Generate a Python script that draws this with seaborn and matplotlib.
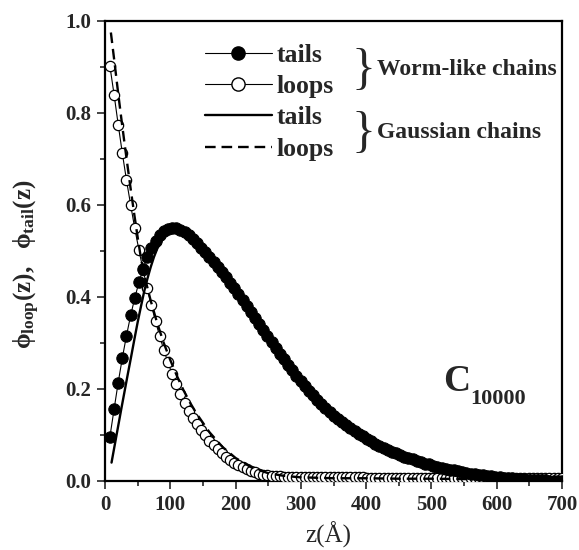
import numpy as np
import pandas as pd
import matplotlib
matplotlib.use("Agg")
import matplotlib.pyplot as plt
from matplotlib.lines import Line2D
from matplotlib.ticker import MultipleLocator
import seaborn as sns

# worm-like chains (markers), sampled every ~6.35 A
z_wlc = [7.5, 13.9, 20.2, 26.6, 32.9, 39.3, 45.6, 52.0, 58.3, 64.7,
         71.0, 77.4, 83.7, 90.1, 96.4, 102.8, 109.1, 115.5, 121.8, 128.2,
         134.5, 140.9, 147.2, 153.6, 159.9, 166.3, 172.6, 179.0, 185.3, 191.7,
         198.0, 204.4, 210.7, 217.1, 223.4, 229.8, 236.1, 242.5, 248.8, 255.2,
         261.5, 267.9, 274.2, 280.6, 286.9, 293.3, 299.6, 306.0, 312.3, 318.7,
         325.0, 331.4, 337.7, 344.1, 350.4, 356.8, 363.1, 369.5, 375.8, 382.2,
         388.5, 394.9, 401.2, 407.6, 413.9, 420.3, 426.6, 433.0, 439.3, 445.7,
         452.0, 458.4, 464.7, 471.1, 477.4, 483.8, 490.1, 496.5, 502.8, 509.2,
         515.5, 521.9, 528.2, 534.6, 540.9, 547.3, 553.6, 560.0, 566.3, 572.7,
         579.0, 585.4, 591.7, 598.1, 604.4, 610.8, 617.1, 623.5, 629.8, 636.2,
         642.5, 648.9, 655.2, 661.6, 667.9, 674.3, 680.6, 687.0, 693.3, 699.7]

tails_wlc = [0.096, 0.156, 0.214, 0.268, 0.316, 0.360, 0.398, 0.432, 0.461, 0.486,
             0.506, 0.522, 0.534, 0.543, 0.548, 0.550, 0.549, 0.546, 0.541, 0.534,
             0.526, 0.517, 0.507, 0.497, 0.486, 0.476, 0.466, 0.455, 0.443, 0.431,
             0.419, 0.406, 0.393, 0.380, 0.367, 0.354, 0.341, 0.328, 0.315, 0.302,
             0.290, 0.277, 0.265, 0.253, 0.241, 0.229, 0.218, 0.207, 0.196, 0.186,
             0.176, 0.167, 0.158, 0.150, 0.142, 0.135, 0.128, 0.121, 0.115, 0.108,
             0.102, 0.097, 0.091, 0.086, 0.081, 0.076, 0.072, 0.068, 0.064, 0.060,
             0.056, 0.053, 0.050, 0.047, 0.044, 0.041, 0.038, 0.036, 0.033, 0.031,
             0.029, 0.027, 0.025, 0.023, 0.021, 0.019, 0.018, 0.016, 0.015, 0.013,
             0.012, 0.011, 0.010, 0.009, 0.008, 0.007, 0.006, 0.006, 0.005, 0.004,
             0.004, 0.003, 0.003, 0.002, 0.002, 0.002, 0.001, 0.001, 0.001, 0.001]

loops_wlc = [0.902, 0.840, 0.775, 0.712, 0.654, 0.600, 0.549, 0.502, 0.459, 0.419,
             0.382, 0.347, 0.315, 0.285, 0.258, 0.233, 0.210, 0.189, 0.170, 0.153,
             0.138, 0.124, 0.111, 0.099, 0.088, 0.078, 0.069, 0.061, 0.053, 0.046,
             0.040, 0.035, 0.030, 0.026, 0.022, 0.019, 0.016, 0.014, 0.012, 0.011,
             0.010, 0.010, 0.009, 0.009, 0.009, 0.009, 0.008, 0.008, 0.008, 0.008,
             0.008, 0.008, 0.008, 0.008, 0.008, 0.008, 0.008, 0.008, 0.008, 0.008,
             0.008, 0.008, 0.007, 0.007, 0.007, 0.007, 0.007, 0.007, 0.007, 0.007,
             0.007, 0.007, 0.007, 0.007, 0.007, 0.007, 0.007, 0.007, 0.007, 0.007,
             0.007, 0.007, 0.007, 0.007, 0.007, 0.007, 0.007, 0.007, 0.007, 0.007,
             0.006, 0.006, 0.006, 0.006, 0.006, 0.006, 0.006, 0.006, 0.006, 0.006,
             0.006, 0.006, 0.006, 0.006, 0.006, 0.006, 0.006, 0.006, 0.006, 0.006]

# Gaussian chains (lines)
z_gauss_tails = [10, 15, 20, 25, 30, 35, 40, 45, 50, 55, 60, 65, 70, 75, 80, 90, 100,
                 110, 120, 140, 160, 180, 200, 225, 250, 275, 300, 325, 350, 400,
                 450, 500, 550, 600, 650, 700]
tails_gauss = [0.040, 0.079, 0.118, 0.157, 0.195, 0.233, 0.270, 0.308, 0.345, 0.379,
               0.412, 0.440, 0.465, 0.487, 0.505, 0.530, 0.544, 0.549, 0.545, 0.519,
               0.487, 0.453, 0.416, 0.364, 0.312, 0.263, 0.217, 0.176, 0.142, 0.090,
               0.057, 0.033, 0.018, 0.008, 0.003, 0.001]

z_gauss_loops = [9, 12, 15, 20, 25, 30, 35, 40, 45, 50, 55, 60, 70, 80, 90, 100, 110,
                 120, 130, 140, 160, 180, 200, 225, 250, 275, 300, 350, 400, 450,
                 500, 560]
loops_gauss = [0.975, 0.940, 0.905, 0.845, 0.788, 0.733, 0.680, 0.628, 0.578, 0.530,
               0.485, 0.448, 0.392, 0.343, 0.300, 0.263, 0.229, 0.198, 0.171, 0.147,
               0.106, 0.074, 0.050, 0.029, 0.017, 0.011, 0.008, 0.006, 0.006, 0.005,
               0.005, 0.004]

sns.set_style("ticks")
plt.rcParams["font.family"] = ["Liberation Serif", "DejaVu Serif"]
plt.rcParams["font.weight"] = "bold"
plt.rcParams["mathtext.fontset"] = "custom"
plt.rcParams["mathtext.rm"] = "Liberation Serif:bold"
plt.rcParams["mathtext.it"] = "Liberation Serif:bold"
plt.rcParams["mathtext.bf"] = "Liberation Serif:bold"

W, H = 579, 550
fig = plt.figure(figsize=(W / 100, H / 100), dpi=100)
ax = fig.add_axes([105 / W, 1 - 481 / H, 457 / W, 460 / H])

sns.lineplot(x=z_wlc, y=loops_wlc, ax=ax, color="black", lw=0.8, marker="o",
             markersize=7.4, markerfacecolor="white", markeredgecolor="black",
             markeredgewidth=0.9, sort=False, zorder=3)
sns.lineplot(x=z_wlc, y=tails_wlc, ax=ax, color="black", lw=0.8, marker="o",
             markersize=8.2, markerfacecolor="black", markeredgecolor="black",
             sort=False, zorder=4)
sns.lineplot(x=z_gauss_tails, y=tails_gauss, ax=ax, color="black", lw=1.7,
             sort=False, zorder=5)
sns.lineplot(x=z_gauss_loops, y=loops_gauss, ax=ax, color="black", lw=1.7,
             linestyle=(0, (4.5, 2.5)), sort=False, zorder=5)

ax.set_xlim(0, 700)
ax.set_ylim(0, 1.0)
ax.xaxis.set_major_locator(MultipleLocator(100))
ax.xaxis.set_minor_locator(MultipleLocator(50))
ax.yaxis.set_major_locator(MultipleLocator(0.2))
ax.yaxis.set_minor_locator(MultipleLocator(0.1))
ax.tick_params(which="major", direction="out", length=6, width=1.2, labelsize=15, pad=4)
ax.tick_params(which="minor", direction="out", length=3.8, width=1.2)
for lab in ax.get_xticklabels() + ax.get_yticklabels():
    lab.set_fontweight("bold")
for sp in ax.spines.values():
    sp.set_visible(True)
    sp.set_linewidth(1.6)
    sp.set_color("black")

ax.set_xlabel("z(Å)", fontsize=18, fontweight="normal", labelpad=7)
ax.xaxis.set_label_coords(0.488, -0.088)
ax.set_ylabel(r"$\phi_{\rm loop}(z),\ \ \phi_{\rm tail}(z)$", fontsize=18)
ax.yaxis.set_label_coords(-0.138, 0.472)

handles = [
    Line2D([], [], color="black", lw=0.8, marker="o", markersize=9.5,
           markerfacecolor="black", markeredgecolor="black"),
    Line2D([], [], color="black", lw=0.8, marker="o", markersize=9.5,
           markerfacecolor="white", markeredgecolor="black"),
    Line2D([], [], color="black", lw=1.7),
    Line2D([], [], color="black", lw=1.7, linestyle=(0, (4.5, 2.5))),
]
labels = ["tails", "loops", "tails", "loops"]
ax.legend(handles, labels, loc="upper left", bbox_to_anchor=(205 / W, 1 - 44 / H),
          bbox_transform=fig.transFigure, frameon=False,
          handlelength=2.6, handletextpad=0.2, labelspacing=0.32, borderpad=0,
          borderaxespad=0, prop={"weight": "bold", "size": 18.5})

fig.text(363 / W, 1 - 71 / H, "}", fontsize=36, fontweight="normal", va="center", ha="center")
fig.text(363 / W, 1 - 134 / H, "}", fontsize=36, fontweight="normal", va="center", ha="center")
fig.text(377 / W, 1 - 70 / H, "Worm-like chains", fontsize=17, fontweight="bold",
         va="center", ha="left")
fig.text(377 / W, 1 - 133 / H, "Gaussian chains", fontsize=17, fontweight="bold",
         va="center", ha="left")

fig.text(443 / W, 1 - 391 / H, "C", fontsize=27, fontweight="bold", va="baseline", ha="left")
fig.text(470 / W, 1 - 404 / H, "10000", fontsize=16, fontweight="bold", va="baseline", ha="left")

fig.savefig("out.png", dpi=100)
